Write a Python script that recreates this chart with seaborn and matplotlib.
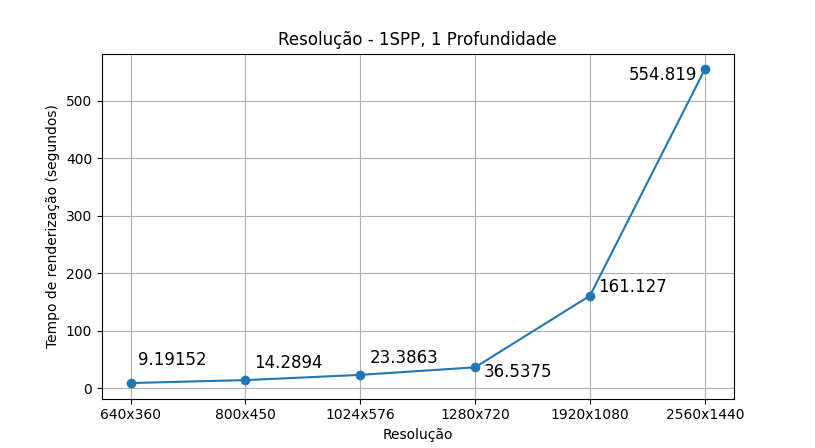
import matplotlib
matplotlib.use("Agg")
import matplotlib.pyplot as plt
import seaborn as sns
import pandas as pd

resolucoes = ["640x360", "800x450", "1024x576", "1280x720", "1920x1080", "2560x1440"]
tempos = [9.19152, 14.2894, 23.3863, 36.5375, 161.127, 554.819]
rotulos = ["9.19152", "14.2894", "23.3863", "36.5375", "161.127", "554.819"]

df = pd.DataFrame({"Resolução": resolucoes, "Tempo": tempos})

fig, ax = plt.subplots(figsize=(8.15, 4.48), dpi=100)
sns.lineplot(data=df, x="Resolução", y="Tempo", marker="o", markersize=7,
             markeredgewidth=0, color="#1f77b4", sort=False, ax=ax)

offsets = [(5, 16.5, "left"), (6.5, 12.2, "left"), (6.5, 12.2, "left"),
           (6.5, -3.6, "left"), (6, 6.5, "left"), (-5.5, -4.3, "right")]
for i, (t, lab) in enumerate(zip(tempos, rotulos)):
    dx, dy, ha = offsets[i]
    ax.annotate(lab, (i, t), xytext=(dx, dy), textcoords="offset points",
                ha=ha, va="center", fontsize=12)

ax.set_title("Resolução - 1SPP, 1 Profundidade", fontsize=12)
ax.set_xlabel("Resolução")
ax.set_ylabel("Tempo de renderização (segundos)")
ax.grid(True)
fig.subplots_adjust(left=0.125, right=0.9, top=0.88, bottom=0.11)
fig.savefig("out.png", dpi=100)
